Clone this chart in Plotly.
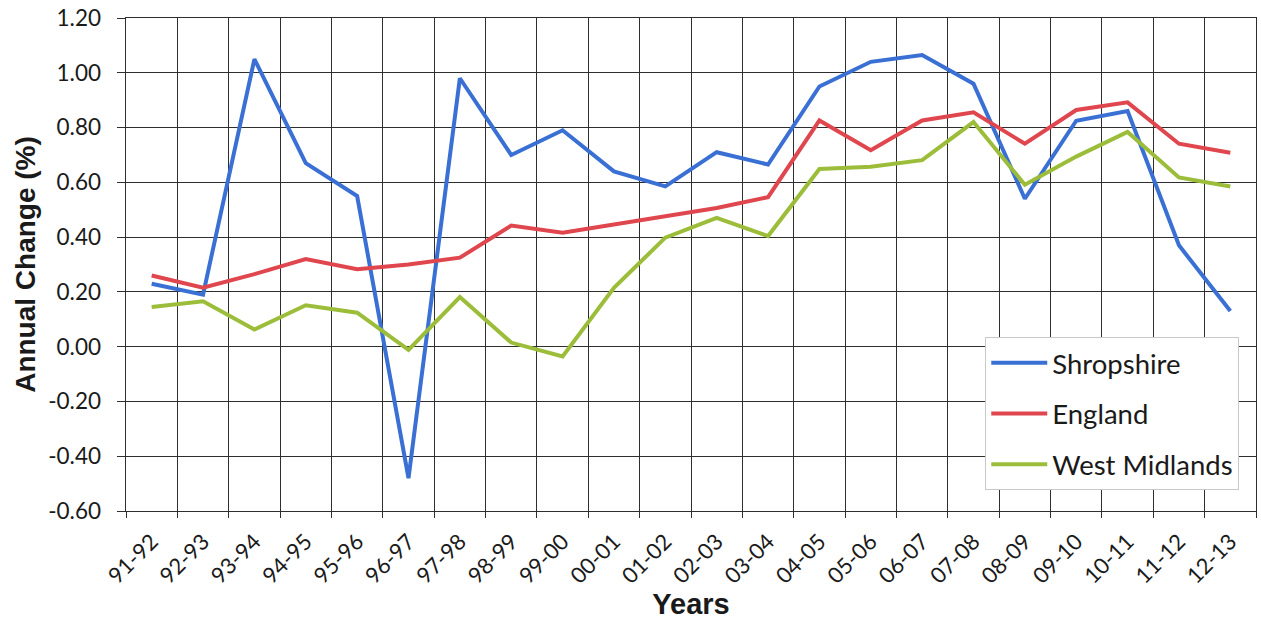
import plotly.graph_objects as go

# Financial years on the category axis
years = ["91-92", "92-93", "93-94", "94-95", "95-96", "96-97", "97-98", "98-99",
         "99-00", "00-01", "01-02", "02-03", "03-04", "04-05", "05-06", "06-07",
         "07-08", "08-09", "09-10", "10-11", "11-12", "12-13"]

# Annual change (%) per area
shropshire = [0.23, 0.19, 1.05, 0.67, 0.55, -0.48, 0.98, 0.70, 0.79, 0.64, 0.585,
              0.71, 0.665, 0.95, 1.04, 1.065, 0.96, 0.54, 0.825, 0.86, 0.37, 0.13]
england = [0.26, 0.215, 0.265, 0.32, 0.283, 0.30, 0.325, 0.442, 0.416, 0.447, 0.477,
           0.506, 0.546, 0.826, 0.717, 0.826, 0.856, 0.741, 0.864, 0.892, 0.741, 0.708]
west_midlands = [0.145, 0.166, 0.063, 0.151, 0.124, -0.012, 0.181, 0.015, -0.036, 0.215,
                 0.398, 0.47, 0.404, 0.649, 0.657, 0.681, 0.82, 0.591, 0.694, 0.784,
                 0.618, 0.585]

y_ticks = [-0.6, -0.4, -0.2, 0.0, 0.2, 0.4, 0.6, 0.8, 1.0, 1.2]

series = [
    ("Shropshire", shropshire, "#3a70d4"),
    ("England", england, "#e0464d"),
    ("West Midlands", west_midlands, "#9cbd3a"),
]

fig = go.Figure()
for name, values, color in series:
    fig.add_trace(go.Scatter(
        x=years, y=values, name=name, mode="lines",
        line=dict(color=color, width=4),
        legendgroup=name,
    ))

grid = "#2e2e2e"
text_col = "#1a1a1a"
tick_font = dict(family="Lato, Calibri, sans-serif", size=22.5, color=text_col)
title_family = "Liberation Sans, Arial, sans-serif"
pad = "\u00a0" * 2  # keeps the y labels clear of the tick marks

fig.update_layout(
    width=1261, height=620,
    margin=dict(l=126, r=4, t=14, b=109),
    paper_bgcolor="white", plot_bgcolor="white",
    showlegend=True,
    legend=dict(
        x=0.7604, y=0.352, xanchor="left", yanchor="top",
        bgcolor="white", bordercolor="#c8c8c8", borderwidth=1,
        font=dict(family="Lato, Calibri, sans-serif", size=27.5, color=text_col),
        tracegroupgap=12, itemwidth=56,
    ),
    xaxis=dict(
        type="category", range=[-0.5, len(years) - 0.5],
        tickson="boundaries", ticks="outside", ticklen=6, tickcolor=grid,
        showgrid=True, gridcolor=grid, gridwidth=1,
        showline=True, linecolor=grid, linewidth=1, mirror=True,
        tickangle=-45, tickfont=dict(family="Lato, Calibri, sans-serif", size=22,
                                     color=text_col),
        ticklabelstandoff=8,
        title=dict(text="<b>Years</b>", standoff=2,
                   font=dict(family=title_family, size=29, color=text_col)),
    ),
    yaxis=dict(
        range=[-0.6, 1.2], tickvals=y_ticks,
        ticktext=[f"{v:.2f}{pad}" for v in y_ticks],
        ticks="outside", ticklen=8, tickcolor=grid,
        showgrid=True, gridcolor=grid, gridwidth=1, zeroline=False,
        showline=True, linecolor=grid, linewidth=1, mirror=True,
        tickfont=tick_font, ticklabeloverflow="allow",
        title=dict(text="<b>Annual Change (%)</b>", standoff=4,
                   font=dict(family=title_family, size=28, color=text_col)),
    ),
)

fig.write_html("out.html")
